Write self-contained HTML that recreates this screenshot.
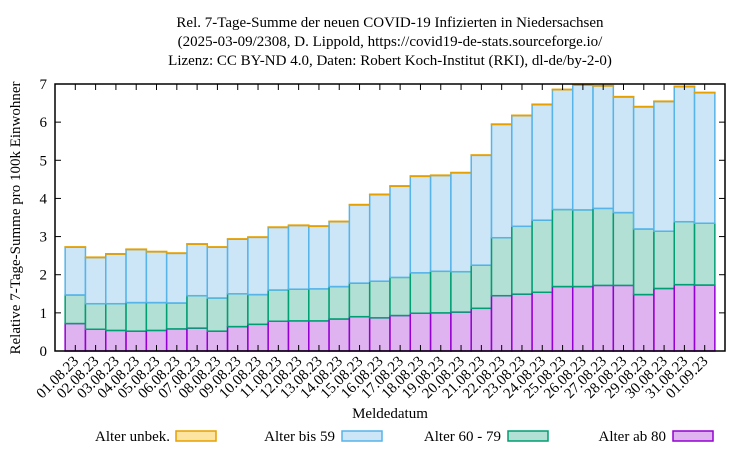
<!DOCTYPE html>
<html><head><meta charset="utf-8"><style>
body{margin:0;background:#fff;width:750px;height:450px;overflow:hidden}
text{font-family:"Liberation Serif",serif;font-size:15px;fill:#000}
</style></head><body>
<svg id="chart" width="750" height="450" viewBox="0 0 750 450">
<g>
<text x="390" y="27" text-anchor="middle">Rel. 7-Tage-Summe der neuen COVID-19 Infizierten in Niedersachsen</text>
<text x="390" y="46" text-anchor="middle">(2025-03-09/2308, D. Lippold, https://covid19-de-stats.sourceforge.io/</text>
<text x="390" y="65" text-anchor="middle">Lizenz: CC BY-ND 4.0, Daten: Robert Koch-Institut (RKI), dl-de/by-2-0)</text>
</g>
<g id="bars"></g>
<g id="axes"></g>
<text transform="translate(20,218) rotate(-90)" text-anchor="middle">Relative 7-Tage-Summe pro 100k Einwohner</text>
<text x="390" y="418" text-anchor="middle">Meldedatum</text>
<g>
<text x="170" y="441" text-anchor="end">Alter unbek.</text>
<rect x="176" y="431" width="40" height="10" fill="#fde4a0" stroke="#e6a000" stroke-width="1.5"/>
<text x="335" y="441" text-anchor="end">Alter bis 59</text>
<rect x="342" y="431" width="40" height="10" fill="#cce6f8" stroke="#56b4e9" stroke-width="1.5"/>
<text x="501" y="441" text-anchor="end">Alter 60 - 79</text>
<rect x="508" y="431" width="40" height="10" fill="#b3e0d4" stroke="#009e73" stroke-width="1.5"/>
<text x="666" y="441" text-anchor="end">Alter ab 80</text>
<rect x="673" y="431" width="40" height="10" fill="#dfb3f0" stroke="#9400d3" stroke-width="1.5"/>
</g>
</svg>
<script>
const dates=["01.08.23","02.08.23","03.08.23","04.08.23","05.08.23","06.08.23","07.08.23","08.08.23","09.08.23","10.08.23","11.08.23","12.08.23","13.08.23","14.08.23","15.08.23","16.08.23","17.08.23","18.08.23","19.08.23","20.08.23","21.08.23","22.08.23","23.08.23","24.08.23","25.08.23","26.08.23","27.08.23","28.08.23","29.08.23","30.08.23","31.08.23","01.09.23"];
const age80=[0.72,0.57,0.54,0.52,0.54,0.58,0.60,0.52,0.64,0.70,0.78,0.79,0.79,0.84,0.90,0.87,0.93,0.99,1.00,1.02,1.12,1.45,1.49,1.54,1.69,1.69,1.72,1.72,1.48,1.64,1.74,1.73];
const age6079=[0.75,0.67,0.70,0.75,0.73,0.68,0.85,0.87,0.86,0.78,0.82,0.83,0.84,0.85,0.88,0.96,1.00,1.06,1.09,1.06,1.13,1.52,1.78,1.89,2.02,2.01,2.02,1.91,1.72,1.50,1.65,1.62];
const age59=[1.25,1.21,1.30,1.39,1.33,1.30,1.35,1.33,1.43,1.50,1.64,1.67,1.64,1.70,2.05,2.27,2.39,2.53,2.51,2.59,2.88,2.97,2.90,3.03,3.14,3.27,3.21,3.03,3.20,3.40,3.54,3.42];
const ageUnk=[0.01,0.01,0.01,0.01,0.01,0.01,0.01,0.01,0.01,0.01,0.01,0.01,0.01,0.01,0.01,0.01,0.01,0.01,0.01,0.01,0.01,0.01,0.01,0.01,0.01,0.01,0.01,0.01,0.01,0.01,0.01,0.01];
const yTicks=[0,1,2,3,4,5,6,7];
const NS="http://www.w3.org/2000/svg";
const L=55,R=725,T=84,B=351;
const n=dates.length;
const bw=(R-L)/(n+1);
const xC=i=>L+bw*(i+1);
const yS=v=>B-(v/7)*(B-T);
function mk(tag,attrs,parent){const e=document.createElementNS(NS,tag);for(const k in attrs)e.setAttribute(k,attrs[k]);parent.appendChild(e);return e;}
const bars=document.getElementById('bars'),axes=document.getElementById('axes');
const series=[[age80,"#dfb3f0","#9400d3","age-80"],[age6079,"#b3e0d4","#009e73","age-60-79"],[age59,"#cce6f8","#56b4e9","age-0-59"],[ageUnk,"#fde4a0","#e6a000","age-unknown"]];
for(let i=0;i<n;i++){
  let base=0;
  for(const [arr,fill,stroke,nm] of series){
    const top=base+arr[i];
    const r=mk('rect',{x:xC(i)-bw/2,y:yS(top),width:bw,height:yS(base)-yS(top),fill:fill,stroke:stroke,'stroke-width':1.5},bars);
    
    
    base=top;
  }
}
const frame=mk('rect',{x:L,y:T,width:R-L,height:B-T,fill:'none',stroke:'#000','stroke-width':1.5},axes);


for(const v of yTicks){
  mk('line',{x1:L,x2:L+6,y1:yS(v),y2:yS(v),stroke:'#000'},axes);
  mk('line',{x1:R,x2:R-6,y1:yS(v),y2:yS(v),stroke:'#000'},axes);
  const t=mk('text',{x:L-8,y:yS(v)+5,'text-anchor':'end'},axes);
  t.textContent=v;
  
  
}
for(let i=0;i<n;i++){
  const x=xC(i);
  mk('line',{x1:x,x2:x,y1:B,y2:B-6,stroke:'#000'},axes);
  mk('line',{x1:x,x2:x,y1:T,y2:T+6,stroke:'#000'},axes);
  const t=mk('text',{x:x+4,y:B+11,'text-anchor':'end',transform:`rotate(-45 ${x+4} ${B+11})`},axes);
  t.textContent=dates[i];
  
  
}
</script>
</body></html>
